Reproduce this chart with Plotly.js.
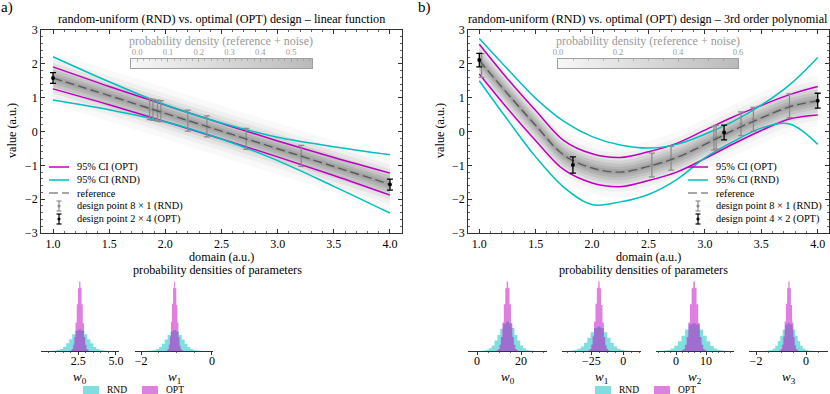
<!DOCTYPE html>
<html>
<head>
<meta charset="utf-8">
<script src="https://cdn.plot.ly/plotly-3.0.1.min.js"></script>
<style>
  html, body { margin: 0; padding: 0; background: #fff; }
  #chart { width: 830px; height: 394px; }
</style>
</head>
<body>
<div id="chart"></div>
<script>
const SERIF = 'Liberation Serif';
const W = 830, H = 394;
const px = x => x / W;
const py = y => 1 - y / H;

// ---------- panel a: linear function ----------
const linX = [1.0, 1.5, 2.0, 2.5, 3.0, 3.5, 4.0];
const linRef = [1.58, 1.06, 0.535, 0.01, -0.51, -1.035, -1.56];
const linOptHi = [1.91, 1.33, 0.78, 0.24, -0.28, -0.77, -1.23];
const linOptLo = [1.26, 0.79, 0.29, -0.22, -0.75, -1.30, -1.88];
const linRndHi = [2.21, 1.47, 0.79, 0.25, -0.17, -0.45, -0.69];
const linRndLo = [0.93, 0.64, 0.29, -0.22, -0.86, -1.62, -2.41];

const linRndPtX = [1.86, 1.89, 1.93, 1.96, 2.2, 2.37, 2.72, 3.21];
const linRndPtY = [0.66, 0.64, 0.62, 0.6, 0.32, 0.15, -0.22, -0.72];
const linRndErr = [0.31, 0.31, 0.31, 0.31, 0.31, 0.31, 0.31, 0.31];
const linOptPtX = [1.0, 4.0];
const linOptPtY = [1.58, -1.57];
const linOptErr = [0.16, 0.16];

// ---------- panel b: 3rd order polynomial ----------
const cubX = [1.0, 1.25, 1.5, 1.75, 2.0, 2.25, 2.5, 2.75, 3.0, 3.25, 3.5, 3.75, 4.0];
const cubRef = [2.1, 1.12, 0.18, -0.7, -1.08, -1.2, -1.03, -0.77, -0.38, 0.03, 0.4, 0.73, 0.91];
const cubOptHi = [2.58, 1.56, 0.62, -0.27, -0.66, -0.77, -0.6, -0.35, 0.04, 0.43, 0.77, 1.09, 1.33];
const cubOptLo = [1.7, 0.68, -0.27, -1.13, -1.52, -1.63, -1.45, -1.2, -0.8, -0.37, 0.03, 0.37, 0.49];
const cubRndHi = [2.75, 1.85, 0.98, 0.3, -0.15, -0.4, -0.49, -0.38, -0.08, 0.3, 0.78, 1.38, 2.19];
const cubRndLo = [1.5, 0.35, -0.75, -1.65, -2.16, -2.08, -1.86, -1.42, -0.78, -0.3, 0.1, 0.22, -0.38];

const cubRndPtX = [1.02, 2.53, 2.70, 3.08, 3.10, 3.32, 3.43, 3.75];
const cubRndPtY = [1.95, -0.99, -0.79, -0.2, -0.17, 0.23, 0.36, 0.76];
const cubRndErr = [0.35, 0.35, 0.35, 0.35, 0.35, 0.35, 0.35, 0.35];
const cubOptPtX = [1.0, 1.83, 3.17, 4.0];
const cubOptPtY = [2.11, -0.99, -0.03, 0.91];
const cubOptErr = [0.2, 0.24, 0.22, 0.22];

// spread of the reference + noise cloud (half widths, a.u.)
const cloudHalfWidths = [0.08, 0.16, 0.25, 0.34, 0.45, 0.58, 0.76];
const cloudAlpha = [0.08, 0.08, 0.075, 0.065, 0.05, 0.035, 0.022];
// colour bar ranges
const cbarA = [-0.02, 0.568];
const cbarB = [0, 0.6];

// ---------- parameter histograms (relative heights, OPT peak = 1) ----------
const aW0Rnd = [0.003, 0.006, 0.013, 0.028, 0.06, 0.11, 0.17, 0.24, 0.29, 0.31, 0.29, 0.24, 0.17, 0.11, 0.058, 0.029, 0.012, 0.006, 0.003];
const aW0Opt = [0.01, 0.03, 0.09, 0.2, 0.41, 0.67, 0.9, 1.0, 0.91, 0.67, 0.4, 0.2, 0.09, 0.03, 0.01];
const aW1Rnd = [0.003, 0.006, 0.012, 0.027, 0.058, 0.105, 0.165, 0.23, 0.28, 0.30, 0.28, 0.23, 0.165, 0.105, 0.056, 0.027, 0.012, 0.006, 0.003];
const aW1Opt = [0.01, 0.03, 0.09, 0.21, 0.42, 0.68, 0.91, 1.0, 0.9, 0.66, 0.41, 0.2, 0.08, 0.03, 0.01];
const bW0Rnd = [0.004, 0.008, 0.017, 0.038, 0.08, 0.15, 0.23, 0.32, 0.39, 0.42, 0.4, 0.33, 0.23, 0.15, 0.078, 0.038, 0.016, 0.008, 0.004];
const bW0Opt = [0.01, 0.03, 0.09, 0.2, 0.41, 0.67, 0.9, 1.0, 0.91, 0.67, 0.4, 0.2, 0.09, 0.03, 0.01];
const bW1Rnd = [0.003, 0.007, 0.014, 0.032, 0.066, 0.12, 0.19, 0.27, 0.33, 0.35, 0.33, 0.27, 0.19, 0.12, 0.065, 0.031, 0.014, 0.007, 0.003];
const bW1Opt = [0.01, 0.03, 0.09, 0.21, 0.42, 0.68, 0.91, 1.0, 0.9, 0.66, 0.41, 0.2, 0.08, 0.03, 0.01];
const bW2Rnd = [0.004, 0.008, 0.016, 0.036, 0.076, 0.14, 0.22, 0.31, 0.38, 0.40, 0.38, 0.31, 0.22, 0.14, 0.075, 0.036, 0.016, 0.008, 0.004];
const bW2Opt = [0.01, 0.03, 0.09, 0.2, 0.41, 0.67, 0.9, 1.0, 0.91, 0.67, 0.4, 0.2, 0.09, 0.03, 0.01];
const bW3Rnd = [0.004, 0.008, 0.016, 0.036, 0.076, 0.14, 0.22, 0.31, 0.38, 0.40, 0.38, 0.31, 0.22, 0.14, 0.075, 0.036, 0.016, 0.008, 0.004];
const bW3Opt = [0.01, 0.03, 0.09, 0.21, 0.42, 0.68, 0.91, 1.0, 0.9, 0.66, 0.41, 0.2, 0.08, 0.03, 0.01];
// bins: [first bin centre, bin width]
const aW0RndBins = [0.8, 0.2], aW0OptBins = [2.04, 0.08];
const aW1RndBins = [-1.77, 0.08], aW1OptBins = [-1.26, 0.03];
const bW0RndBins = [2.1, 1.3], bW0OptBins = [9.25, 0.65];
const bW1RndBins = [-42.4, 2.6], bW1OptBins = [-26.7, 1.1];
const bW2RndBins = [-4.8, 1.2], bW2OptBins = [2.15, 0.55];
const bW3RndBins = [-1.58, 0.1], bW3OptBins = [-1.03, 0.05];

const MAG = '#bf00bf', CYA = '#00bfbf';
const MAG_FILL = 'rgba(191,0,191,0.5)', CYA_FILL = 'rgba(0,191,191,0.5)';

const traces = [];

function addCloud(xs, ref, xa, ya) {
    cloudHalfWidths.forEach((hw, i) => {
        traces.push({ x: xs, y: ref.map(v => v - hw), xaxis: xa, yaxis: ya, mode: 'lines',
            line: { width: 0, shape: 'spline' }, hoverinfo: 'skip', showlegend: false });
        traces.push({ x: xs, y: ref.map(v => v + hw), xaxis: xa, yaxis: ya, mode: 'lines',
            fill: 'tonexty', fillcolor: 'rgba(0,0,0,' + cloudAlpha[i] + ')',
            line: { width: 0, shape: 'spline' }, hoverinfo: 'skip', showlegend: false });
    });
}

function addLine(xs, ys, color, xa, ya, dash, width) {
    traces.push({ x: xs, y: ys, xaxis: xa, yaxis: ya, mode: 'lines',
        line: { color: color, width: width || 1.5, dash: dash || 'solid', shape: 'spline' },
        hoverinfo: 'skip', showlegend: false });
}

function addPoints(xs, ys, errs, color, size, xa, ya) {
    traces.push({ x: xs, y: ys, xaxis: xa, yaxis: ya, mode: 'markers',
        marker: { color: color, size: size },
        error_y: { type: 'data', array: errs, color: color, thickness: 1.3, width: 3 },
        hoverinfo: 'skip', showlegend: false });
}

function bins(spec, n) {
    return Array.from({ length: n }, (_, i) => spec[0] + i * spec[1]);
}

function addHist(heights, spec, fill, xa, ya) {
    const c = bins(spec, heights.length);
    const x = [c[0] - spec[1]].concat(c, [c[c.length - 1] + spec[1]]);
    const y = [0].concat(heights, [0]);
    traces.push({ x: x, y: y, xaxis: xa, yaxis: ya, mode: 'lines',
        line: { shape: 'hvh', width: 0 }, fill: 'tozeroy', fillcolor: fill,
        hoverinfo: 'skip', showlegend: false });
}

// panel a
addCloud(linX, linRef, 'x', 'y');
addLine(linX, linOptHi, MAG, 'x', 'y');
addLine(linX, linOptLo, MAG, 'x', 'y');
addLine(linX, linRndHi, CYA, 'x', 'y');
addLine(linX, linRndLo, CYA, 'x', 'y');
addPoints(linRndPtX, linRndPtY, linRndErr, '#8c8c8c', 3, 'x', 'y');
addLine(linX, linRef, '#5a5a5a', 'x', 'y', '9px,4px', 1.4);
addPoints(linOptPtX, linOptPtY, linOptErr, '#000', 4, 'x', 'y');

// panel b
addCloud(cubX, cubRef, 'x2', 'y2');
addLine(cubX, cubOptHi, MAG, 'x2', 'y2');
addLine(cubX, cubOptLo, MAG, 'x2', 'y2');
addLine(cubX, cubRndHi, CYA, 'x2', 'y2');
addLine(cubX, cubRndLo, CYA, 'x2', 'y2');
addPoints(cubRndPtX, cubRndPtY, cubRndErr, '#8c8c8c', 3, 'x2', 'y2');
addLine(cubX, cubRef, '#5a5a5a', 'x2', 'y2', '9px,4px', 1.4);
addPoints(cubOptPtX, cubOptPtY, cubOptErr, '#000', 4, 'x2', 'y2');

// histograms
addHist(aW0Rnd, aW0RndBins, CYA_FILL, 'x3', 'y3');
addHist(aW0Opt, aW0OptBins, MAG_FILL, 'x3', 'y3');
addHist(aW1Rnd, aW1RndBins, CYA_FILL, 'x4', 'y4');
addHist(aW1Opt, aW1OptBins, MAG_FILL, 'x4', 'y4');
addHist(bW0Rnd, bW0RndBins, CYA_FILL, 'x5', 'y5');
addHist(bW0Opt, bW0OptBins, MAG_FILL, 'x5', 'y5');
addHist(bW1Rnd, bW1RndBins, CYA_FILL, 'x6', 'y6');
addHist(bW1Opt, bW1OptBins, MAG_FILL, 'x6', 'y6');
addHist(bW2Rnd, bW2RndBins, CYA_FILL, 'x7', 'y7');
addHist(bW2Opt, bW2OptBins, MAG_FILL, 'x7', 'y7');
addHist(bW3Rnd, bW3RndBins, CYA_FILL, 'x8', 'y8');
addHist(bW3Opt, bW3OptBins, MAG_FILL, 'x8', 'y8');

// colour bars
[[cbarA, 'x9', 'y9'], [cbarB, 'x10', 'y10']].forEach(([r, xa, ya]) => {
    traces.push({ x: [r[0], r[1], r[1], r[0], r[0]], y: [0, 0, 1, 1, 0], xaxis: xa, yaxis: ya,
        mode: 'lines', fill: 'toself', line: { width: 0 },
        fillgradient: { type: 'horizontal', colorscale: [[0, '#f7f7f7'], [1, '#bababa']] },
        hoverinfo: 'skip', showlegend: false });
});

// ---------- axes ----------
const tickFont = { family: SERIF, size: 12, color: '#000' };

function frameAxis(extra) {
    return Object.assign({
        showline: true, mirror: 'allticks', linecolor: '#000', linewidth: 0.8,
        ticks: 'inside', ticklen: 4, tickwidth: 0.8, tickcolor: '#000',
        showgrid: false, zeroline: false, tickfont: tickFont, fixedrange: true
    }, extra);
}

function histAxis(extra) {
    return Object.assign({
        showline: true, linecolor: '#000', linewidth: 0.8,
        ticks: 'outside', ticklen: 3, tickwidth: 0.8, tickcolor: '#000', ticklabelstandoff: -4,
        showgrid: false, zeroline: false, tickfont: tickFont, fixedrange: true
    }, extra);
}

const hy = { domain: [py(351), py(280)], range: [0, 1.02], visible: false, fixedrange: true };
const minor = (d) => ({ dtick: d, ticks: 'inside', ticklen: 2, tickwidth: 0.6, tickcolor: '#000', showgrid: false });
const minorOut = (d) => ({ dtick: d, ticks: 'outside', ticklen: 1.6, tickwidth: 0.6, tickcolor: '#000', showgrid: false });

function cbarAxis(dom, r, dt, md) {
    return {
        domain: dom, range: r, side: 'top',
        showline: true, mirror: true, linecolor: '#888', linewidth: 0.8,
        ticks: 'inside', ticklen: 3, tickwidth: 0.6, tickcolor: '#888', tick0: 0, dtick: dt,
        tickformat: '.1f', tickfont: { family: SERIF, size: 8.5, color: '#9a9a9a' },
        minor: { dtick: md, ticks: 'inside', ticklen: 1.8, tickwidth: 0.5, tickcolor: '#888', showgrid: false },
        showgrid: false, zeroline: false, fixedrange: true
    };
}
const cbarY = (dom) => ({ domain: dom, range: [0, 1], showline: true, mirror: true, linecolor: '#888',
    linewidth: 0.8, ticks: '', showticklabels: false, showgrid: false, zeroline: false, fixedrange: true });

const xaxis9 = cbarAxis([px(131), px(312)], cbarA, 0.1, 0.02); xaxis9.anchor = 'y9';
const xaxis10 = cbarAxis([px(558), px(738)], cbarB, 0.2, 0.05); xaxis10.anchor = 'y10';

// ---------- annotations & manual legends ----------
const annotations = [];
const shapes = [];

function text(x, y, t, size, opts) {
    annotations.push(Object.assign({ xref: 'paper', yref: 'paper', x: px(x), y: py(y), text: t,
        showarrow: false, xanchor: 'center', yanchor: 'middle',
        font: { family: SERIF, size: size, color: '#000' } }, opts || {}));
}

text(7, 8, 'a)', 15);
text(424, 8, 'b)', 15);
text(221, 19, 'random-uniform (RND) vs. optimal (OPT) design – linear function', 12.2);
text(648, 19, 'random-uniform (RND) vs. optimal (OPT) design – 3rd order polynomial', 12.2);
text(221, 41, 'probability density (reference + noise)', 12, { font: { family: SERIF, size: 12, color: '#9a9a9a' } });
text(648, 41, 'probability density (reference + noise)', 12, { font: { family: SERIF, size: 12, color: '#9a9a9a' } });
text(12, 131, 'value (a.u.)', 12.2, { textangle: -90 });
text(440, 131, 'value (a.u.)', 12.2, { textangle: -90 });
text(221, 257, 'domain (a.u.)', 12.2);
text(648, 257, 'domain (a.u.)', 12.2);
text(217, 270, 'probability densities of parameters', 12.2);
text(643, 270, 'probability densities of parameters', 12.2);
text(80, 377, '<i>w</i><sub>0</sub>', 13);
text(174, 377, '<i>w</i><sub>1</sub>', 13);
text(507.5, 377, '<i>w</i><sub>0</sub>', 13);
text(601.5, 377, '<i>w</i><sub>1</sub>', 13);
text(695, 377, '<i>w</i><sub>2</sub>', 13);
text(788.5, 377, '<i>w</i><sub>3</sub>', 13);

function lineShape(x0, y0, x1, y1, color, width, dash) {
    shapes.push({ type: 'line', xref: 'paper', yref: 'paper', x0: px(x0), y0: py(y0), x1: px(x1), y1: py(y1),
        line: { color: color, width: width, dash: dash || 'solid' } });
}
function errIcon(xc, y, color) {
    lineShape(xc, y - 5, xc, y + 5, color, 1.2);
    lineShape(xc - 2.5, y - 5, xc + 2.5, y - 5, color, 1.2);
    lineShape(xc - 2.5, y + 5, xc + 2.5, y + 5, color, 1.2);
    shapes.push({ type: 'circle', xref: 'paper', yref: 'paper', x0: px(xc - 1.6), x1: px(xc + 1.6),
        y0: py(y + 1.6), y1: py(y - 1.6), fillcolor: color, line: { width: 0 } });
}
function mainLegend(x0, optLabel) {
    const rows = [167, 180, 193, 206, 219];
    const labels = ['95% CI (OPT)', '95% CI (RND)', 'reference', 'design point 8 × 1 (RND)', optLabel];
    lineShape(x0, rows[0], x0 + 20, rows[0], MAG, 1.5);
    lineShape(x0, rows[1], x0 + 20, rows[1], CYA, 1.5);
    lineShape(x0, rows[2], x0 + 20, rows[2], '#8a8a8a', 1.5, '9px,4px');
    errIcon(x0 + 10, rows[3], '#8c8c8c');
    errIcon(x0 + 10, rows[4], '#000');
    labels.forEach((l, i) => text(x0 + 26, rows[i], l, 10.3, { xanchor: 'left' }));
}
mainLegend(49, 'design point 2 × 4 (OPT)');
mainLegend(688, 'design point 4 × 2 (OPT)');

function histLegend(x0) {
    shapes.push({ type: 'rect', xref: 'paper', yref: 'paper', x0: px(x0), x1: px(x0 + 16), y0: py(395), y1: py(386),
        fillcolor: CYA_FILL, line: { width: 0 } });
    text(x0 + 22, 389.5, 'RND', 9.5, { xanchor: 'left' });
    shapes.push({ type: 'rect', xref: 'paper', yref: 'paper', x0: px(x0 + 59), x1: px(x0 + 75), y0: py(395), y1: py(386),
        fillcolor: MAG_FILL, line: { width: 0 } });
    text(x0 + 81, 389.5, 'OPT', 9.5, { xanchor: 'left' });
}
histLegend(83);
histLegend(595);

const layout = {
    width: W, height: H,
    margin: { l: 0, r: 0, t: 0, b: 0 },
    paper_bgcolor: '#fff', plot_bgcolor: 'rgba(0,0,0,0)',
    font: { family: SERIF, size: 12, color: '#000' },
    showlegend: false,
    xaxis: frameAxis({ domain: [px(41), px(402)], range: [0.893, 4.107], anchor: 'y', tick0: 1, dtick: 0.5,
        tickformat: '.1f', minor: minor(0.1) }),
    yaxis: frameAxis({ domain: [py(233), py(30)], range: [-3, 3], anchor: 'x', tick0: 0, dtick: 1, minor: minor(0.2) }),
    xaxis2: frameAxis({ domain: [px(468), px(829)], range: [0.9, 4.1], anchor: 'y2', tick0: 1, dtick: 0.5,
        tickformat: '.1f', minor: minor(0.1) }),
    yaxis2: frameAxis({ domain: [py(233), py(30)], range: [-3, 3], anchor: 'x2', tick0: 0, dtick: 1, minor: minor(0.2) }),
    xaxis3: histAxis({ domain: [px(41), px(119)], range: [0.03, 5.2], anchor: 'y3', tick0: 0, dtick: 2.5,
        tickformat: '.1f', minor: minorOut(0.5) }),
    yaxis3: Object.assign({ anchor: 'x3' }, hy),
    xaxis4: histAxis({ domain: [px(135), px(213)], range: [-2.17, 0.03], anchor: 'y4', tick0: 0, dtick: 2,
        minor: minorOut(0.5) }),
    yaxis4: Object.assign({ anchor: 'x4' }, hy),
    xaxis5: histAxis({ domain: [px(468), px(547)], range: [-4.1, 31.8], anchor: 'y5', tick0: 0, dtick: 20,
        minor: minorOut(5) }),
    yaxis5: Object.assign({ anchor: 'x5' }, hy),
    xaxis6: histAxis({ domain: [px(562), px(641)], range: [-48, 14], anchor: 'y6', tick0: 0, dtick: 25,
        minor: minorOut(6.25) }),
    yaxis6: Object.assign({ anchor: 'x6' }, hy),
    xaxis7: histAxis({ domain: [px(656), px(734)], range: [-6.7, 19.3], anchor: 'y7', tick0: 0, dtick: 10,
        minor: minorOut(2) }),
    yaxis7: Object.assign({ anchor: 'x7' }, hy),
    xaxis8: histAxis({ domain: [px(749), px(828)], range: [-2.28, 0.88], anchor: 'y8', tick0: 0, dtick: 2,
        minor: minorOut(0.5) }),
    yaxis8: Object.assign({ anchor: 'x8' }, hy),
    xaxis9: xaxis9,
    yaxis9: Object.assign(cbarY([py(68), py(59)]), { anchor: 'x9' }),
    xaxis10: xaxis10,
    yaxis10: Object.assign(cbarY([py(68), py(59)]), { anchor: 'x10' }),
    annotations: annotations,
    shapes: shapes
};

Plotly.newPlot('chart', traces, layout, { staticPlot: true, displayModeBar: false });
</script>
</body>
</html>
